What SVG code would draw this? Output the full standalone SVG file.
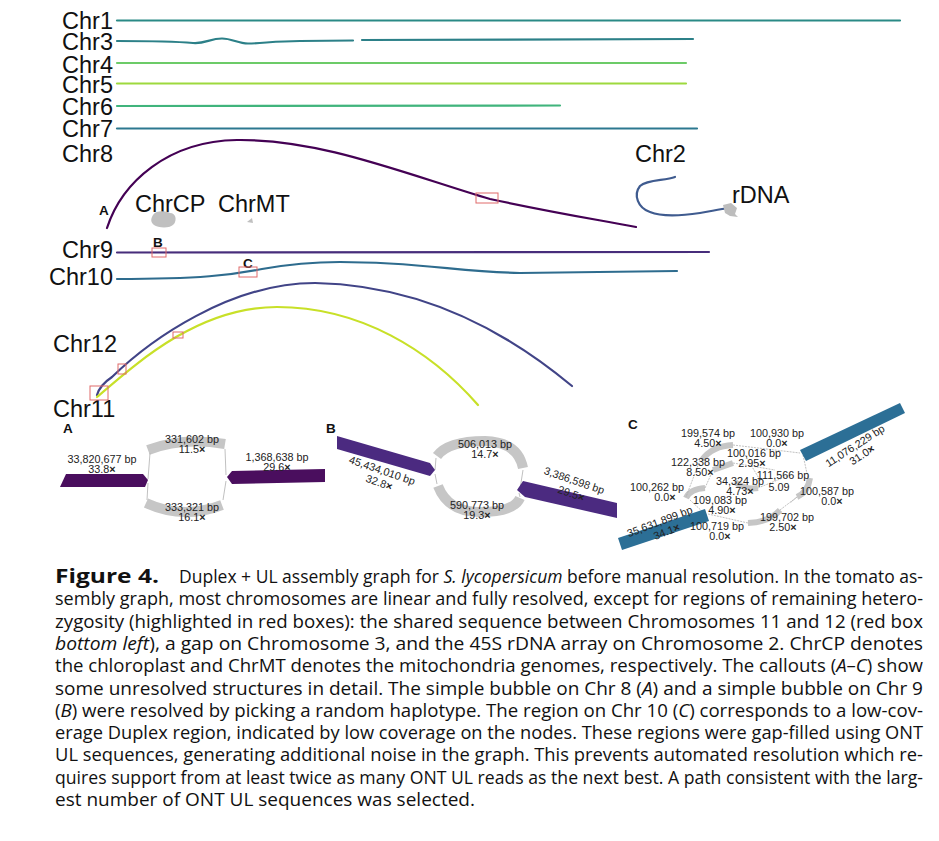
<svg xmlns="http://www.w3.org/2000/svg" width="939" height="841" viewBox="0 0 939 841">
<style>
.lbl{font-family:"Liberation Sans",Arial,sans-serif;font-size:23.5px;fill:#111}
.pl{font-family:"Liberation Sans",Arial,sans-serif;font-size:13.5px;font-weight:bold;fill:#111}
.nl{font-family:"Liberation Sans",Arial,sans-serif;font-size:10.8px;fill:#222;text-anchor:middle}
.x{font-weight:bold}
.chr{fill:none;stroke-width:2.2;stroke-linecap:round}
.rb{fill:none;stroke:#e06a6a;stroke-width:1}
.gn{fill:none;stroke:#c6c6c6;stroke-width:10}
.gs{fill:none;stroke:#c6c6c6;stroke-width:6}
.gl{fill:none;stroke:#b0b0b0;stroke-width:0.8}
.cap{font-family:"Open Sans","Noto Sans",sans-serif;font-size:19px;fill:#111}
</style>
<rect width="939" height="841" fill="#fff"/>
<g id="labels">
<text class="lbl" x="113" y="29" text-anchor="end">Chr1</text>
<text class="lbl" x="113" y="50" text-anchor="end">Chr3</text>
<text class="lbl" x="113" y="73" text-anchor="end">Chr4</text>
<text class="lbl" x="113" y="93" text-anchor="end">Chr5</text>
<text class="lbl" x="113" y="115" text-anchor="end">Chr6</text>
<text class="lbl" x="113" y="137" text-anchor="end">Chr7</text>
<text class="lbl" x="113" y="162" text-anchor="end">Chr8</text>
<text class="lbl" x="113" y="258" text-anchor="end">Chr9</text>
<text class="lbl" x="113" y="285" text-anchor="end">Chr10</text>
<text class="lbl" x="53" y="352">Chr12</text>
<text class="lbl" x="53" y="417">Chr11</text>
<text class="lbl" x="135" y="212">ChrCP</text>
<text class="lbl" x="218" y="212">ChrMT</text>
<text class="lbl" x="635" y="162">Chr2</text>
<text class="lbl" x="732" y="203">rDNA</text>
<text class="pl" x="99" y="215">A</text>
<text class="pl" x="153" y="247">B</text>
<text class="pl" x="243" y="268">C</text>
</g>
<g id="chromosomes">
<path id="chr1" class="chr" stroke="#2a8a86" d="M117,20.5 C300,20 500,19.5 700,20.5 C800,21 850,20.5 900,20.5"/>
<path id="chr3" class="chr" stroke="#2c8088" d="M117,41 C150,41 170,41 193,43 C205,44 210,38.5 222,38.5 C232,38.5 238,43.5 248,43.5 C262,43.5 275,41 300,41 L353,40.5 M362,40 L693,39"/>
<path id="chr4" class="chr" stroke="#6ccb68" d="M117,63 L686,63"/>
<path id="chr5" class="chr" stroke="#9ed93e" d="M117,83.5 L686,83.5"/>
<path id="chr6" class="chr" stroke="#40b47c" d="M117,106 L560,105.5"/>
<path id="chr7" class="chr" stroke="#2c7890" d="M117,128.5 L697,128.5"/>
<path id="chr8" class="chr" stroke="#440154" d="M107,228 C122,182 168,141 237,140 C320,139 400,172 490,199 C560,214 600,220 636,227"/>
<path id="chr9" class="chr" stroke="#472d7b" d="M117,252.5 L709,252"/>
<path id="chr10" class="chr" stroke="#2e6c8e" d="M117,279 C200,279 232,275 262,269 C290,264 315,262 340,262 C420,262 460,272 520,273 L677,271"/>
<path id="chr12" class="chr" stroke="#414487" stroke-width="1.5" d="M97,395 C99,388 103,383 112,377 C150,340 230,283 315,283 C420,285 505,330 572,386"/>
<path id="chr11" class="chr" stroke="#c8e028" stroke-width="1.5" d="M97,397 C140,360 200,307 277,307 C360,307 430,350 478,405"/>
<path id="chr2" class="chr" stroke="#3f5b8f" d="M675,177 C665,181 648,179 640,186 C633,195 638,208 650,212 C662,217 680,216 700,213 C712,211 720,209 729,208"/>
<path d="M723,205 L731,203 L737,208 L735,214 L738,217 L730,216 L725,213 Z" fill="#bdbdbd"/>
<path d="M153,215 C156,210 166,211 170,213 C176,213 177,220 174,224 C170,229 158,228 154,225 C150,222 151,218 153,215 Z" fill="#c0c0c0"/>
<path d="M247,222 L252,218 L253,223 Z" fill="#c0c0c0"/>
<rect class="rb" x="476" y="193" width="22" height="10"/>
<rect class="rb" x="152" y="248" width="14" height="9"/>
<rect class="rb" x="239" y="267" width="18" height="10"/>
<rect class="rb" x="90" y="386" width="18" height="14" stroke-width="1.3"/>
<rect class="rb" x="118" y="364" width="8" height="10" stroke="#e0a8b8"/>
<rect class="rb" x="173" y="332" width="10" height="6" stroke="#e0a8b8"/>
</g>
<g id="panelA">
<text class="pl" x="63" y="433">A</text>
<path class="gn" d="M148,450 Q182,437 225,444"/>
<path class="gn" d="M146,503 Q183,520 222,505"/>
<path class="gl" d="M150,453 L148,479 M148,483 L147,500 M225,449 L226,475 M226,481 L223,500"/>
<polygon points="60,487 66,474 143,474 148,480 145,487" fill="#4a0e5e"/>
<polygon points="227,477 232,471 325,469 325,482 232,484" fill="#4a0e5e"/>
<text class="nl" x="102" y="463">33,820,677 bp</text>
<text class="nl" x="102" y="473">33.8<tspan class="x">×</tspan></text>
<text class="nl" x="277" y="461">1,368,638 bp</text>
<text class="nl" x="277" y="471">29.6<tspan class="x">×</tspan></text>
<text class="nl" x="192" y="443">331,602 bp</text>
<text class="nl" x="192" y="453">11.5<tspan class="x">×</tspan></text>
<text class="nl" x="192" y="511">333,321 bp</text>
<text class="nl" x="192" y="521">16.1<tspan class="x">×</tspan></text>
</g>
<g id="panelB">
<text class="pl" x="326" y="433">B</text>
<path class="gn" d="M437,456 Q448,441 485,441 Q518,442 523,468"/>
<path class="gn" d="M438,486 Q448,512 480,512 Q514,512 520,498"/>
<path class="gl" d="M436,458 L435,470 M435,474 L437,484 M523,470 L520,489 M519,493 L520,497"/>
<polygon points="337,436 430,463 435,470 430,476 337,449" fill="#4b2a80"/>
<polygon points="523,481 617,503 617,518 525,497 517,490" fill="#4b2a80"/>
<text class="nl" transform="translate(381,474) rotate(19)">45,434,010 bp</text>
<text class="nl" transform="translate(378,486) rotate(19)">32.8<tspan class="x">×</tspan></text>
<text class="nl" transform="translate(573,484) rotate(19)">3,386,598 bp</text>
<text class="nl" transform="translate(570,497) rotate(19)">29.5<tspan class="x">×</tspan></text>
<text class="nl" x="485" y="448">506,013 bp</text>
<text class="nl" x="485" y="458">14.7<tspan class="x">×</tspan></text>
<text class="nl" x="477" y="509">590,773 bp</text>
<text class="nl" x="477" y="519">19.3<tspan class="x">×</tspan></text>
</g>
<g id="panelC">
<text class="pl" x="628" y="429">C</text>
<path class="gs" d="M702,460 Q712,446 733,445"/>
<path class="gs" d="M810,478 Q808,492 797,497"/>
<path class="gs" d="M780,510 Q770,522 748,523"/>
<path class="gs" d="M686,498 Q690,489 705,488"/>
<path class="gs" d="M713,470 L733,463"/>
<path class="gs" d="M735,482 Q745,490 758,488"/>
<path class="gl" stroke-dasharray="2,1" d="M733,445 L800,453 M803,455 L808,478 M797,497 L790,503 M748,523 L708,514 M690,500 L705,514 M733,463 L775,470 M758,488 L790,475 M705,488 L713,470 M745,455 L760,480 M700,460 L686,497 M780,510 L797,497"/>
<polygon points="800,450 900,403 905,413 806,461" fill="#2c6f96"/>
<polygon points="618,538 705,509 709,521 622,550" fill="#2c6f96"/>
<text class="nl" transform="translate(857,449) rotate(-33)">11,076,229 bp</text>
<text class="nl" transform="translate(864,458) rotate(-33)">31.0<tspan class="x">×</tspan></text>
<text class="nl" transform="translate(661,525) rotate(-21)">35,631,899 bp</text>
<text class="nl" transform="translate(668,535) rotate(-21)">34.1<tspan class="x">×</tspan></text>
<text class="nl" x="708" y="437">199,574 bp</text>
<text class="nl" x="708" y="447">4.50<tspan class="x">×</tspan></text>
<text class="nl" x="777" y="437">100,930 bp</text>
<text class="nl" x="777" y="447">0.0<tspan class="x">×</tspan></text>
<text class="nl" x="754" y="457">100,016 bp</text>
<text class="nl" x="752" y="467">2.95<tspan class="x">×</tspan></text>
<text class="nl" x="698" y="466">122,338 bp</text>
<text class="nl" x="700" y="476">8.50<tspan class="x">×</tspan></text>
<text class="nl" x="783" y="479">111,566 bp</text>
<text class="nl" x="779" y="491">5.09</text>
<text class="nl" x="740" y="485">34,324 bp</text>
<text class="nl" x="740" y="495">4.73<tspan class="x">×</tspan></text>
<text class="nl" x="657" y="491">100,262 bp</text>
<text class="nl" x="665" y="501">0.0<tspan class="x">×</tspan></text>
<text class="nl" x="827" y="495">100,587 bp</text>
<text class="nl" x="832" y="505">0.0<tspan class="x">×</tspan></text>
<text class="nl" x="720" y="504">109,083 bp</text>
<text class="nl" x="722" y="514">4.90<tspan class="x">×</tspan></text>
<text class="nl" x="787" y="521">199,702 bp</text>
<text class="nl" x="783" y="531">2.50<tspan class="x">×</tspan></text>
<text class="nl" x="717" y="530">100,719 bp</text>
<text class="nl" x="720" y="540">0.0<tspan class="x">×</tspan></text>
</g>
<g id="caption">
<text class="cap" x="55" y="583" font-weight="bold" textLength="104" lengthAdjust="spacingAndGlyphs">Figure 4.</text>
<text class="cap" x="179" y="583" textLength="744" lengthAdjust="spacingAndGlyphs">Duplex + UL assembly graph for <tspan font-style="italic">S. lycopersicum</tspan> before manual resolution. In the tomato as-</text>
<text class="cap" x="55" y="605.3" textLength="868" lengthAdjust="spacingAndGlyphs">sembly graph, most chromosomes are linear and fully resolved, except for regions of remaining hetero-</text>
<text class="cap" x="55" y="627.6" textLength="868" lengthAdjust="spacingAndGlyphs">zygosity (highlighted in red boxes): the shared sequence between Chromosomes 11 and 12 (red box</text>
<text class="cap" x="55" y="649.9" textLength="868" lengthAdjust="spacingAndGlyphs"><tspan font-style="italic">bottom left</tspan>), a gap on Chromosome 3, and the 45S rDNA array on Chromosome 2. ChrCP denotes</text>
<text class="cap" x="55" y="672.2" textLength="868" lengthAdjust="spacingAndGlyphs">the chloroplast and ChrMT denotes the mitochondria genomes, respectively. The callouts (<tspan font-style="italic">A</tspan>–<tspan font-style="italic">C</tspan>) show</text>
<text class="cap" x="55" y="694.5" textLength="868" lengthAdjust="spacingAndGlyphs">some unresolved structures in detail. The simple bubble on Chr 8 (<tspan font-style="italic">A</tspan>) and a simple bubble on Chr 9</text>
<text class="cap" x="55" y="716.8" textLength="868" lengthAdjust="spacingAndGlyphs">(<tspan font-style="italic">B</tspan>) were resolved by picking a random haplotype. The region on Chr 10 (<tspan font-style="italic">C</tspan>) corresponds to a low-cov-</text>
<text class="cap" x="55" y="739.1" textLength="868" lengthAdjust="spacingAndGlyphs">erage Duplex region, indicated by low coverage on the nodes. These regions were gap-filled using ONT</text>
<text class="cap" x="55" y="761.4" textLength="868" lengthAdjust="spacingAndGlyphs">UL sequences, generating additional noise in the graph. This prevents automated resolution which re-</text>
<text class="cap" x="55" y="783.7" textLength="868" lengthAdjust="spacingAndGlyphs">quires support from at least twice as many ONT UL reads as the next best. A path consistent with the larg-</text>
<text class="cap" x="55" y="806">est number of ONT UL sequences was selected.</text>
</g>
</svg>
